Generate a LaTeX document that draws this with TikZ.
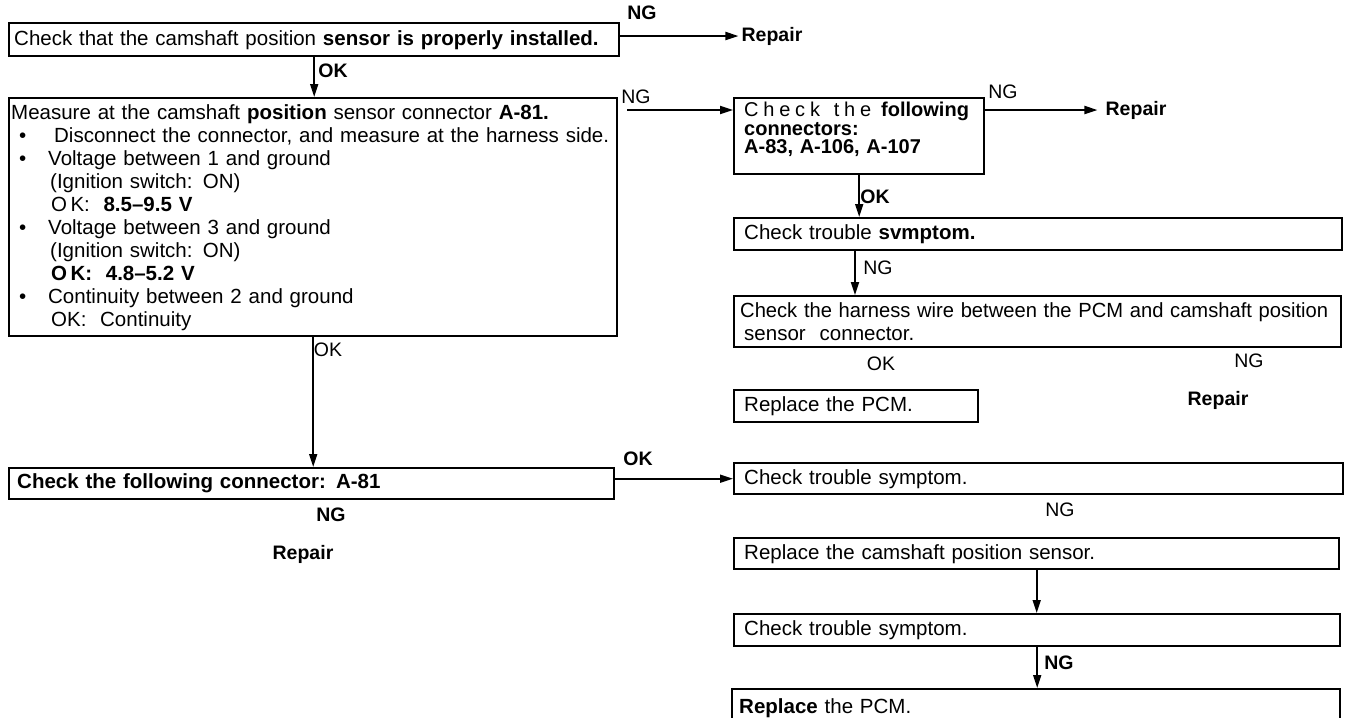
\documentclass[tikz,border=0pt]{standalone}
\usepackage{fontspec}
\usepackage{graphicx}
\setmainfont{Liberation Sans}
\usetikzlibrary{arrows.meta}
\newcommand\fsz{\fontsize{20.5}{23}\selectfont}
\newcommand\lfs{\fontsize{19.5}{22}\selectfont}
\begin{document}
\begin{tikzpicture}[x=1pt,y=-1pt,
  box/.style={draw, line width=2.4pt, rectangle, anchor=north west, inner ysep=0pt, align=left, font=\fsz},
  arr/.style={line width=1.8pt, -{Triangle[length=13pt,width=8pt]}},
  lab/.style={font=\lfs, inner sep=0pt},
  blab/.style={font=\lfs\bfseries, inner sep=0pt}]
\useasboundingbox[fill=white] (0,0) rectangle (1345,718);

% left column
\node[box, inner xsep=5pt, text width=600pt, minimum height=33pt] (b1) at (8,22)
  {\makebox[599pt][s]{Check that the camshaft position \textbf{sensor is properly installed.}}};
\node[box, inner xsep=2pt, text width=604pt, minimum height=238pt] (b2) at (8,97)
  {\makebox[580pt][s]{Measure at the camshaft \textbf{position} sensor connector \textbf{A-81.}}\\
   \hspace*{8pt}\makebox[35pt][l]{•}Disconnect the connector, and measure at the harness side.\\
   \hspace*{8pt}\makebox[29pt][l]{•}\makebox[291pt][s]{Voltage between 1 and ground}\\
   \hspace*{39pt}(Ignition switch: ON)\\
   \hspace*{40pt}O\,K:\ \ \textbf{8.5–9.5 V}\\
   \hspace*{8pt}\makebox[29pt][l]{•}\makebox[291pt][s]{Voltage between 3 and ground}\\
   \hspace*{39pt}(Ignition switch: ON)\\
   \hspace*{40pt}\textbf{O\,K:\ \ 4.8–5.2 V}\\
   \hspace*{8pt}\makebox[29pt][l]{•}\makebox[313pt][s]{Continuity between 2 and ground}\\
   \hspace*{40pt}OK:\ \ Continuity};
\node[box, inner xsep=8pt, text width=589pt, minimum height=31pt] (bA) at (8,467)
  {\textbf{Check the following connector: A-81}};

% right column
\node[box, inner xsep=10pt, text width=230pt, minimum height=76pt, font=\fontsize{20}{18.5}\selectfont] (b3) at (733,97)
  {\makebox[127pt][s]{C\hfil h\hfil e\hfil c\hfil k\hskip 9pt plus 1fil t\hfil h\hfil e}\hspace{10pt}\textbf{following}\\
   \textbf{connectors:}\\
   \textbf{A-83, A-106, A-107}\rule[-16pt]{0pt}{1pt}};
\node[box, inner xsep=10pt, text width=588pt, minimum height=32pt] (b4) at (733,217)
  {Check trouble \textbf{svmptom.}};
\node[box, inner xsep=6pt, text width=595pt, minimum height=51pt] (b5) at (733,295)
  {\resizebox{588pt}{\height}{Check the harness wire between the PCM and camshaft position}\\
   \hspace*{4pt}sensor\hspace{14pt}connector.};
\node[box, inner xsep=10pt, text width=224pt, minimum height=32pt] (b6) at (733,389)
  {Replace the PCM.};
\node[box, inner xsep=10pt, text width=589pt, minimum height=31pt] (b7) at (733,462)
  {Check trouble symptom.};
\node[box, inner xsep=10pt, text width=585pt, minimum height=31pt] (b8) at (733,537)
  {Replace the camshaft position sensor.};
\node[box, inner xsep=10pt, text width=586pt, minimum height=32pt] (b9) at (733,613)
  {Check trouble symptom.};
\node[box, inner xsep=7pt, text width=594pt, minimum height=40pt] (b10) at (731,688)
  {\textbf{Replace} the PCM.\rule[-6pt]{0pt}{1pt}};

% labels
\node[blab] (ng1) at (642,13) {NG};
\node[blab] (r1) at (772,36) {Repair};
\node[blab] (ok1) at (333,71) {OK};
\node[lab] (ng2) at (636,97) {NG};
\node[lab] (ng3) at (1003,92) {NG};
\node[blab] (r2) at (1136,110) {Repair};
\node[blab] (ok2) at (875,197) {OK};
\node[lab] (ng4) at (878,268) {NG};
\node[lab] (ok3) at (881,364) {OK};
\node[lab] (ng5) at (1249,361) {NG};
\node[blab] (r3) at (1218,400) {Repair};
\node[lab] (ok4) at (328,350) {OK};
\node[blab] (ok5) at (638,459) {OK};
\node[blab] (ng6) at (331,515) {NG};
\node[blab] (r4) at (303,554) {Repair};
\node[lab] (ng7) at (1060,510) {NG};
\node[blab] (ng8) at (1059,663) {NG};

% connectors
\coordinate (y110) at (0,110);
\coordinate (x855) at (855,0);
\draw[arr, shorten >=3pt] (b1.east |- r1.west) -- (r1.west);
\draw[arr] (b1.south) -- (b1.south |- b2.north);
\draw[arr, shorten <=9pt] (b2.east |- y110) -- (b3.west |- y110);
\draw[arr, shorten >=8pt] (b3.east |- y110) -- (r2.west);
\draw[arr] (b3.south) -- (b3.south |- b4.north);
\draw[arr] (b4.south -| x855) -- (b5.north -| x855);
\draw[arr] (b2.south) -- (b2.south |- bA.north);
\draw[arr] (bA.east |- b7.west) -- (b7.west);
\draw[arr] (b8.south) -- (b8.south |- b9.north);
\draw[arr] (b9.south) -- (b9.south |- b10.north);
\end{tikzpicture}
\end{document}
